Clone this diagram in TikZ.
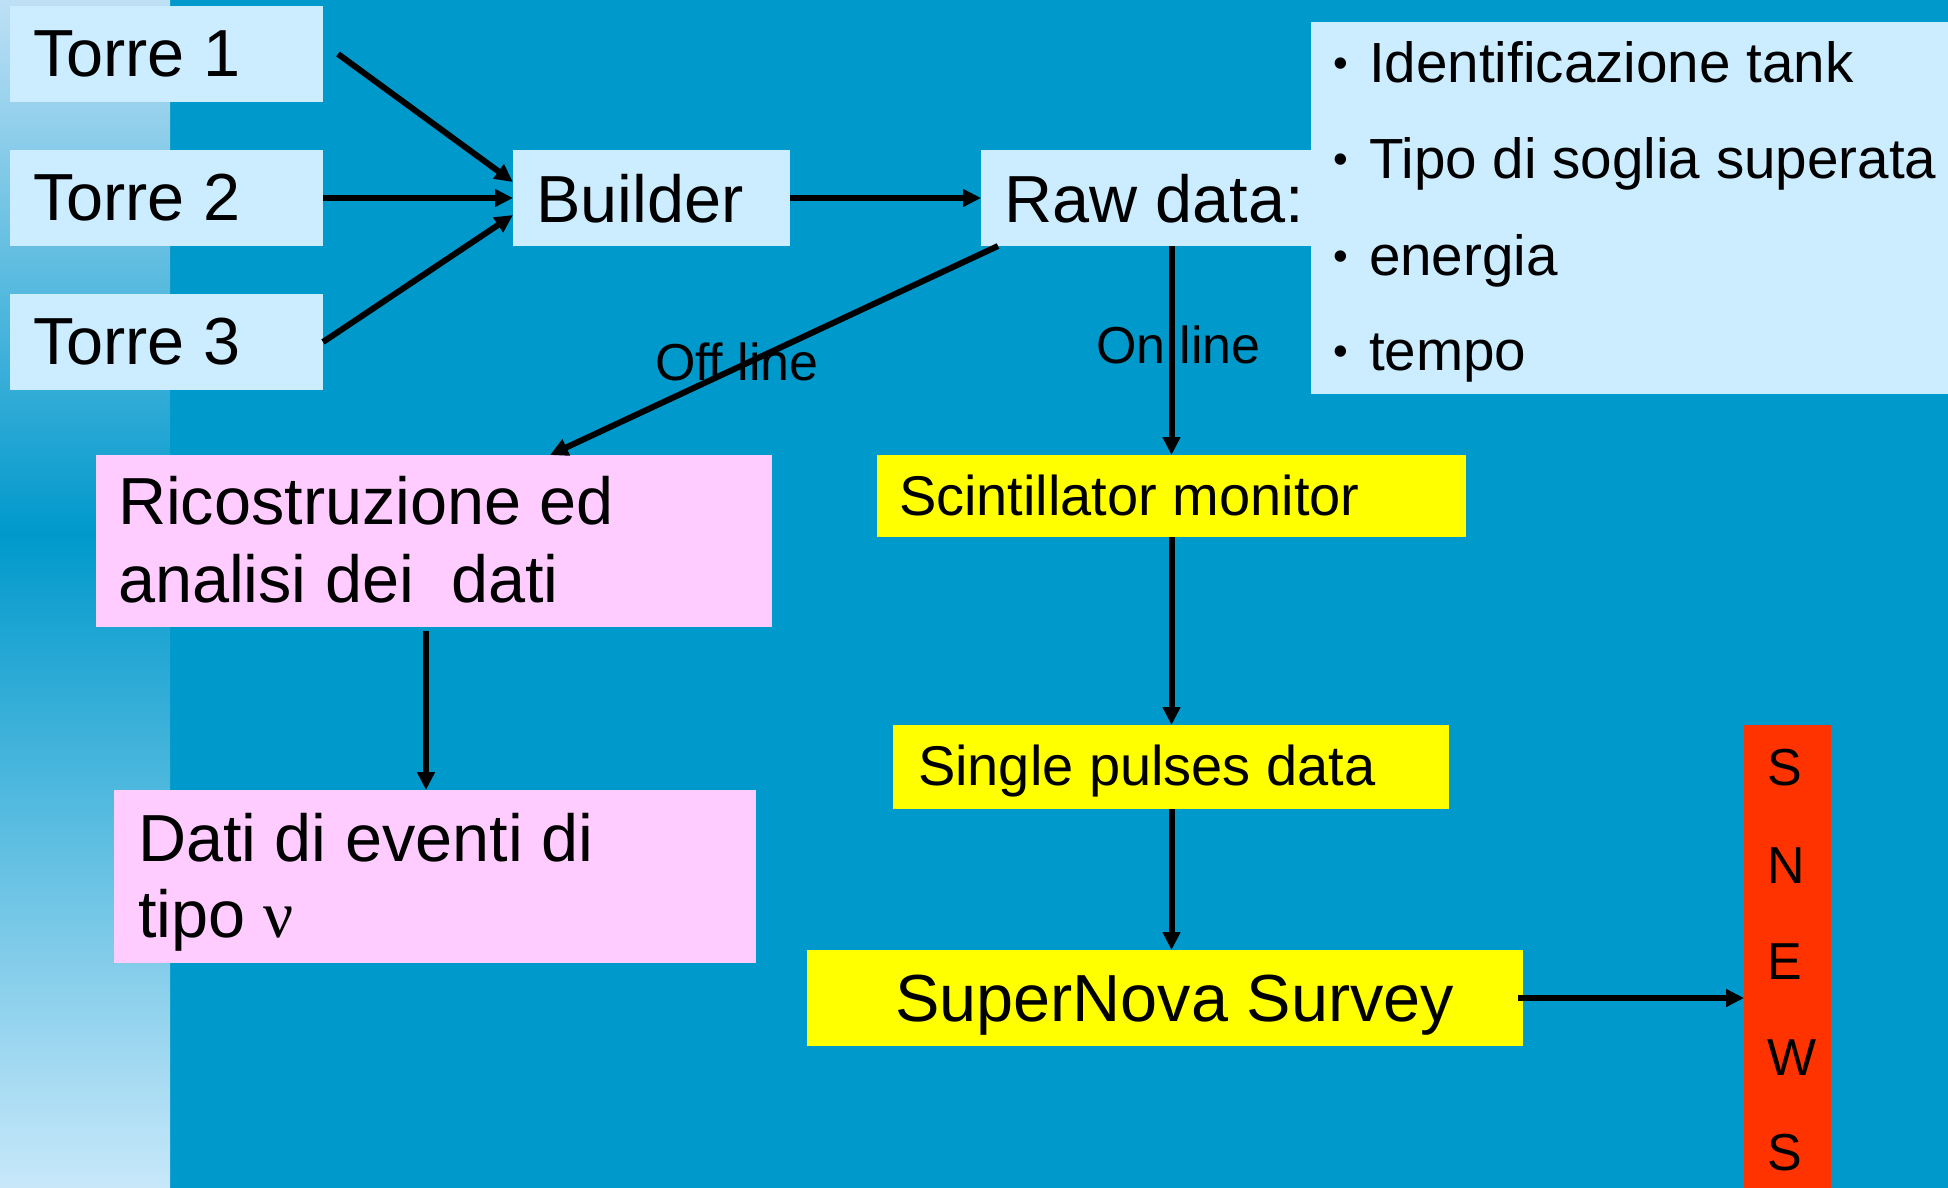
\documentclass[tikz,border=0pt]{standalone}
\usepackage{fontspec}
\setmainfont{Liberation Sans}
\newfontfamily\nufont{Liberation Serif}
\usetikzlibrary{arrows.meta}
\definecolor{bg}{RGB}{0,153,204}
\definecolor{lightbox}{RGB}{204,236,255}
\definecolor{pinkbox}{RGB}{255,204,255}
\definecolor{yellowbox}{RGB}{255,255,0}
\definecolor{redbox}{RGB}{255,51,0}
\definecolor{striptop}{RGB}{190,224,245}
\definecolor{stripbot}{RGB}{200,232,250}
\begin{document}
\begin{tikzpicture}[x=0.5pt,y=-0.5pt,
  box/.style={inner sep=0pt, outer sep=0pt, anchor=north west, draw=none},
  txt/.style={inner sep=0pt, outer sep=0pt, anchor=base west, text=black},
  bigf/.style={font=\fontsize{33.3}{40}\selectfont},
  midf/.style={font=\fontsize{28.3}{34}\selectfont},
  bulf/.style={font=\fontsize{21}{25}\selectfont},
  yelf/.style={font=\fontsize{28}{34}\selectfont},
  smallf/.style={font=\fontsize{26}{30}\selectfont},
  snf/.style={font=\fontsize{26}{30}\selectfont},
  thickarr/.style={-{Triangle[length=9pt,width=8.5pt]}, line width=3pt, draw=black}
]
\useasboundingbox (0,0) rectangle (1948,1188);
% background
\fill[bg] (0,0) rectangle (1948,1188);
\shade[top color=striptop, bottom color=bg] (0,0) rectangle (170,533);
\shade[top color=bg, bottom color=stripbot] (0,533) rectangle (170,1188);

% boxes
\node[box, fill=lightbox, minimum width=156.5pt, minimum height=48pt] (t1) at (10,6) {};
\node[box, fill=lightbox, minimum width=156.5pt, minimum height=48pt] (t2) at (10,150) {};
\node[box, fill=lightbox, minimum width=156.5pt, minimum height=48pt] (t3) at (10,294) {};
\node[box, fill=lightbox, minimum width=138.5pt, minimum height=48pt] (b) at (513,150) {};
\node[box, fill=lightbox, minimum width=165pt, minimum height=48pt] (raw) at (981,150) {};
\node[box, fill=lightbox, minimum width=318.5pt, minimum height=186pt] (list) at (1311,22) {};
\node[box, fill=pinkbox, minimum width=338pt, minimum height=86pt] (rico) at (96,455) {};
\node[box, fill=pinkbox, minimum width=321pt, minimum height=86.5pt] (dati) at (114,790) {};
\node[box, fill=yellowbox, minimum width=294.5pt, minimum height=41pt] (scint) at (877,455) {};
\node[box, fill=yellowbox, minimum width=278pt, minimum height=42pt] (single) at (893,725) {};
\node[box, fill=yellowbox, minimum width=358pt, minimum height=48pt] (sn) at (807,950) {};
\node[box, fill=redbox, minimum width=43.5pt, minimum height=231.5pt] (snews) at (1744,725) {};

% texts
\node[txt, bigf] (t1t) at (33,77) {Torre 1};
\node[txt, bigf] (t2t) at (33,220) {Torre 2};
\node[txt, bigf] (t3t) at (33,364) {Torre 3};
\node[txt, bigf] (bt) at (536,222) {Builder};
\node[txt, bigf] (rawt) at (1004,222) {Raw data:};
\foreach \yy/\tt [count=\i] in {83/Identificazione tank,178/Tipo di soglia superata,275/energia,370/tempo}{
  \node[txt, bulf] (bul\i) at (1333,\yy-5) {•};
  \node[txt, midf] (item\i) at (1369,\yy) {\tt};
}
\node[txt, bigf] (ricot1) at (118,524) {Ricostruzione ed};
\node[txt, bigf] (ricot2) at (118,602) {analisi dei\ \ dati};
\node[txt, bigf] (datit1) at (138,861) {Dati di eventi di};
\node[txt, bigf] (datit2) at (138,937) {tipo {\nufont ν}};
\node[txt, yelf] (scintt) at (899,515) {Scintillator monitor};
\node[txt, yelf] (singlet) at (918,785) {Single pulses data};
\node[txt, bigf] (snt) at (895,1021) {SuperNova Survey};
\foreach \yy/\ll [count=\i] in {785/S,883/N,979/E,1075/W,1170/S}{
  \node[txt, snf] (sn\i) at (1767,\yy) {\ll};
}
\node[txt, smallf] (offl) at (655,380) {Off line};
\node[txt, smallf] (onl) at (1096,363) {On line};

% connectors
\draw[thickarr] ([xshift=7.5pt]t1.east) -- ([yshift=8pt]b.west);
\draw[thickarr] (t2.east) -- (b.west);
\draw[thickarr] (t3.east) -- ([yshift=-8.5pt]b.west);
\draw[thickarr] (b.east) -- (raw.west);
\draw[thickarr] ([xshift=8.5pt]raw.south west) -- ([xshift=227pt]rico.north west);
\draw[thickarr] (raw.south -| scint.north) -- (scint.north);
\draw[thickarr] (scint.south) -- (scint.south |- single.north);
\draw[thickarr] (scint.south |- single.south) -- (scint.south |- sn.north);
\draw[thickarr] ([xshift=-2.5pt]sn.east) -- (sn.east -| snews.west);
\draw[thickarr] ([xshift=-4pt,yshift=-2pt]rico.south) -- ([xshift=-4pt]rico.south |- dati.north);
\end{tikzpicture}
\end{document}
